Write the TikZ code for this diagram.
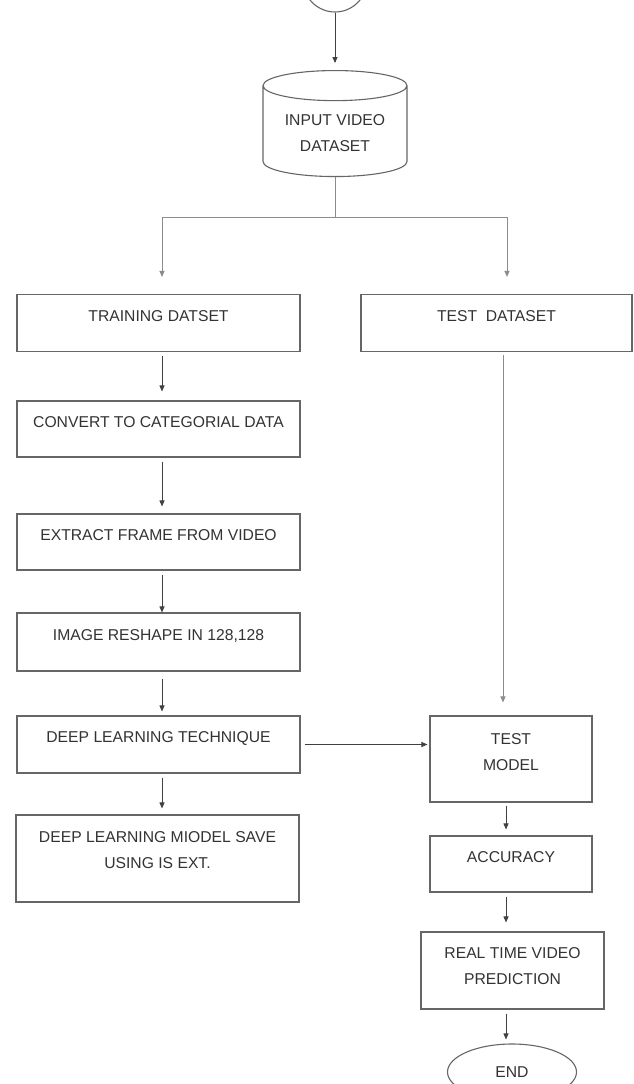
\documentclass[tikz,border=0pt]{standalone}
\usepackage{fontspec}
\setmainfont{Liberation Sans}
\usetikzlibrary{positioning, arrows.meta, shapes.geometric, calc}

\newcommand{\lift}[2][7pt]{\raisebox{#1}[\height][\depth]{\begin{tabular}{@{}c@{}}#2\end{tabular}}}

\tikzset{
  block/.style={rectangle, draw=black!60, line width=1.1pt, inner sep=0pt, minimum width=283pt, minimum height=57pt, text=black!80},
  terminal/.style={ellipse, draw=black!60, line width=1.1pt, inner sep=0pt, text=black!80},
  store/.style={cylinder, shape border rotate=90, aspect=0.3, draw=black!60, line width=1.1pt, inner sep=0pt, minimum width=144pt, minimum height=106pt, text=black!80},
  stepline/.style={black!75, line width=0.9pt, -{Triangle[length=6pt,width=5pt]}, shorten <=4pt, shorten >=7pt},
  feed/.style={black!45, line width=1pt},
  feedarrow/.style={feed, -{Triangle[length=6pt,width=5pt]}},
}

\begin{document}
\begin{tikzpicture}[x=1pt, y=-1pt, font=\fontsize{15.7}{26}\selectfont]
\useasboundingbox (0,0) rectangle (634,1084);
\fill[white] (0,0) rectangle (634,1084);

% top part
\node[terminal, minimum width=64pt, minimum height=64pt] (start) at (335,-20) {};
\node[store, anchor=north] (input) at (335,70) {\lift[-1.5pt]{INPUT VIDEO\\DATASET}};
\coordinate (split) at (335,217);
\coordinate (splitL) at (162,217);
\coordinate (splitR) at (507,217);
\coordinate (colL) at (162,0);
\coordinate (colM) at (503,0);
\coordinate (colR) at (506,0);

% training side
\node[block] (train) at (158.5,323) {\lift{TRAINING DATSET}};
\node[block, minimum height=56pt] (convert) at (158.5,429) {\lift{CONVERT TO CATEGORIAL DATA}};
\node[block, minimum height=56pt] (extract) at (158.5,542) {\lift{EXTRACT FRAME FROM VIDEO}};
\node[block, minimum height=58pt] (reshape) at (158.5,642) {\lift{IMAGE RESHAPE IN 128,128}};
\node[block] (deep) at (158.5,744.5) {\lift{DEEP LEARNING TECHNIQUE}};
\node[block, minimum height=87pt] (save) at (157.5,858.5) {\lift[8pt]{DEEP LEARNING MIODEL SAVE\\USING IS EXT.}};

% test side
\node[block, minimum width=271pt] (testdata) at (496.5,323) {\lift{TEST~~DATASET}};
\node[block, minimum width=162pt, minimum height=86pt] (model) at (511,759) {\lift{TEST\\MODEL}};
\node[block, minimum width=162pt, minimum height=56pt] (acc) at (511,864) {\lift{ACCURACY}};
\node[block, minimum width=183pt, minimum height=77pt] (realtime) at (512.5,970.5) {\lift[4pt]{REAL TIME VIDEO\\PREDICTION}};
\node[terminal, minimum width=129pt, minimum height=56pt] (end) at (512,1072) {END};

% connectors
\draw[stepline, shorten <=0pt] (start) -- (input);
\draw[feed] (input) -- (split);
\draw[feed] (splitL) -- (splitR);
\draw[feedarrow, shorten >=17pt] (splitL) -- (splitL |- train.north);
\draw[feedarrow, shorten >=17pt] (splitR) -- (splitR |- testdata.north);

\draw[stepline, shorten >=9pt] (train.south -| colL) -- (convert.north -| colL);
\draw[stepline] (convert.south -| colL) -- (extract.north -| colL);
\draw[stepline, shorten >=0pt] (extract.south -| colL) -- (reshape.north -| colL);
\draw[stepline, shorten <=7pt, shorten >=4pt] (reshape.south -| colL) -- (deep.north -| colL);
\draw[stepline, shorten >=6pt] (deep.south -| colL) -- (save.north -| colL);
\draw[stepline, shorten >=2pt] (deep.east) -- (deep.east -| model.west);

\draw[feedarrow, shorten <=3pt, shorten >=13pt] (testdata.south -| colM) -- (model.north -| colM);
\draw[stepline, shorten <=3pt, shorten >=6pt] (model.south -| colR) -- (acc.north -| colR);
\draw[stepline, shorten >=9pt] (acc.south -| colR) -- (realtime.north -| colR);
\draw[stepline, shorten >=4pt] (realtime.south -| colR) -- (end.north -| colR);
\end{tikzpicture}
\end{document}
